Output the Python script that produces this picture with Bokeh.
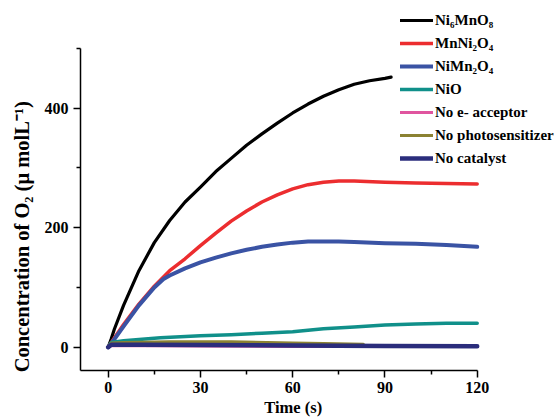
from bokeh.plotting import figure
from bokeh.models import Range1d, FixedTicker, Legend, LegendItem
from bokeh.embed import file_html
from bokeh.resources import INLINE

# ---- data ----
black_t = [0, 1, 2, 5, 10, 15, 20, 25, 30, 35, 40, 45, 50, 55, 60, 65, 70, 75, 80, 85, 90, 92]
black_y = [0, 14, 30, 70, 128, 175, 212, 243, 268, 294, 316, 338, 357, 375, 392, 407, 420, 431, 440, 446, 450, 452]

red_t = [0, 1, 5, 10, 15, 20, 25, 30, 35, 40, 45, 50, 55, 60, 65, 70, 75, 80, 90, 100, 110, 120]
red_y = [0, 8, 38, 72, 102, 128, 148, 170, 191, 211, 228, 243, 255, 265, 272, 276, 278, 278, 276, 275, 274, 273]

blue_t = [0, 1, 5, 10, 15, 18, 20, 25, 30, 35, 40, 45, 50, 55, 60, 65, 70, 75, 80, 90, 100, 110, 120]
blue_y = [0, 6, 35, 70, 100, 114, 120, 132, 142, 150, 157, 163, 168, 172, 175, 177, 177, 177, 176, 174, 173, 171, 168]

teal_t = [0, 1, 5, 10, 17, 30, 40, 50, 60, 70, 80, 90, 100, 110, 120]
teal_y = [0, 8, 11, 13, 15.7, 19, 21, 23.5, 26, 31, 34, 37, 39, 40, 40]

pink_t = [0, 1, 30, 60, 90, 120]
pink_y = [0, 3, 2, 1, 1, 1]

olive_t = [0, 1, 5, 20, 40, 60, 70, 83]
olive_y = [0, 7, 8, 9, 9, 7, 6, 5]

navy_t = [0, 1, 10, 30, 60, 90, 120]
navy_y = [0, 4, 4, 3.5, 2.8, 2, 1.7]

labels = ["Ni\u2086MnO\u2088", "MnNi\u2082O\u2084", "NiMn\u2082O\u2084", "NiO",
          "No e- acceptor", "No photosensitizer", "No catalyst"]

x_ticks = [0, 30, 60, 90, 120]
x_minor = [15, 45, 75, 105]
y_ticks = [0, 200, 400]
y_minor = [100, 300, 500]

FONT = "Liberation Serif"
NB = "\u00a0"

p = figure(width=555, height=419, output_backend="svg", toolbar_location=None,
           x_range=Range1d(-9, 145.46), y_range=Range1d(-39, 580.25),
           min_border_left=80, min_border_right=0, min_border_top=0, min_border_bottom=49)
p.grid.visible = False
p.outline_line_color = None
p.background_fill_color = "white"

series = [
    (black_t, black_y, "#000000", 3.2),
    (red_t, red_y, "#ec2d2f", 3.5),
    (blue_t, blue_y, "#3a53a4", 4.0),
    (teal_t, teal_y, "#10908a", 3.5),
    (pink_t, pink_y, "#e0559f", 3.0),
    (olive_t, olive_y, "#8b8232", 3.0),
    (navy_t, navy_y, "#2b2d7c", 4.5),
]

renderers = []
for t, y, c, w in series:
    r = p.line(t, y, line_color=c, line_width=w, line_cap="round", line_join="round")
    renderers.append(r)

for ax in (p.xaxis[0], p.yaxis[0]):
    ax.axis_line_width = 1.5
    ax.axis_line_color = "black"
    ax.major_tick_line_color = "black"
    ax.minor_tick_line_color = "black"
    ax.major_tick_line_width = 1.5
    ax.minor_tick_line_width = 1.5
    ax.major_tick_in = 0
    ax.major_tick_out = 7
    ax.minor_tick_in = 0
    ax.minor_tick_out = 4
    ax.major_label_text_font = FONT
    ax.major_label_text_font_style = "bold"
    ax.major_label_text_font_size = "16px"
    ax.major_label_text_color = "black"
    ax.axis_label_text_font = FONT
    ax.axis_label_text_font_style = "bold"
    ax.axis_label_text_color = "black"

p.xaxis.bounds = (-9, 120)
p.yaxis.bounds = (-39, 500)
p.xaxis.ticker = FixedTicker(ticks=x_ticks, minor_ticks=x_minor)
p.yaxis.ticker = FixedTicker(ticks=y_ticks, minor_ticks=y_minor)
p.xaxis.axis_label = "Time (s)" + NB * 12
p.yaxis.axis_label = "Concentration of O\u2082 (\u03bc molL\u207b\u00b9)" + NB * 20
p.xaxis.axis_label_text_font_size = "16.5px"
p.yaxis.axis_label_text_font_size = "20.5px"
p.xaxis.major_label_standoff = 4
p.yaxis.major_label_standoff = 5
p.xaxis.axis_label_standoff = 2
p.yaxis.axis_label_standoff = 9

legend = Legend(items=[LegendItem(label=l, renderers=[r]) for l, r in zip(labels, renderers)],
                location=(320, 202))
legend.glyph_width = 33
legend.glyph_height = 20
legend.label_height = 20
legend.label_standoff = 2
legend.spacing = 3
legend.padding = 0
legend.margin = 0
legend.border_line_color = None
legend.background_fill_alpha = 0
legend.label_text_font = FONT
legend.label_text_font_style = "bold"
legend.label_text_font_size = "15px"
legend.label_text_color = "black"
p.add_layout(legend, "center")

open("out.html", "w").write(file_html(p, INLINE))
